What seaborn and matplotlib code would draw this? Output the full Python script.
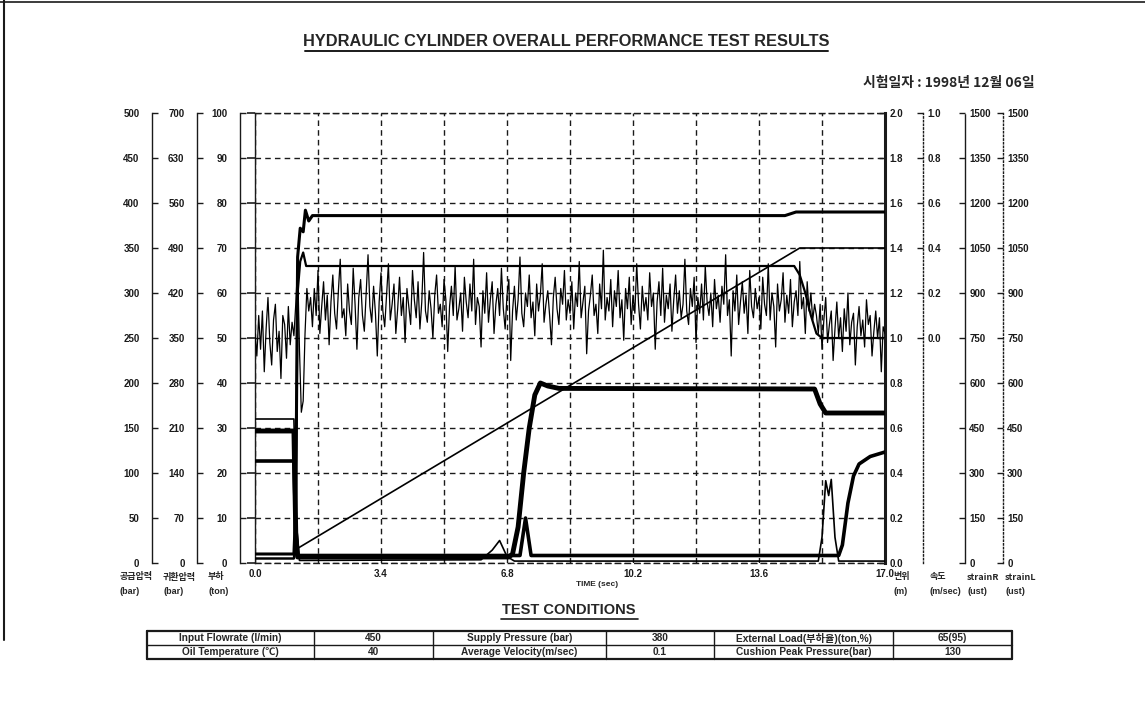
import numpy as np
import matplotlib
matplotlib.use("Agg")
import matplotlib.pyplot as plt
import seaborn as sns
from matplotlib.lines import Line2D
from matplotlib.ticker import MultipleLocator

# ---------------- data ----------------
x_ticks = [0.0, 3.4, 6.8, 10.2, 13.6, 17.0]

supply_t = [0, 1.05, 1.10, 1.15, 1.22, 1.30, 1.36, 1.45, 1.55, 14.3, 14.6, 17.0]
supply_v = [10, 10, 60, 340, 372, 368, 392, 380, 386, 386, 390, 390]          # bar (0-500)

return_t = [0, 1.05, 1.12, 1.20, 6.1, 6.4, 6.6, 6.8, 7.0, 15.2, 15.3, 15.4, 15.48, 15.55, 15.65, 15.75, 17.0]
return_v = [224, 224, 60, 4, 5, 20, 35, 10, 3, 3, 40, 128, 105, 130, 40, 3, 3]     # bar (0-700)

load_t = [0, 1.05, 1.10, 1.15, 1.22, 1.30, 1.38, 14.55, 14.7, 14.85, 15.0, 15.15, 15.3, 17.0]
load_v = [1, 1, 10, 60, 67, 69, 66, 66, 64, 60, 55, 51, 50, 50]                # ton (0-100)

disp_t = [0, 1.05, 1.10, 14.7, 17.0]
disp_v = [0.02, 0.02, 0.06, 1.40, 1.40]                                      # m (0-2.0)

strainR_t = [0, 1.05, 1.10, 1.15, 6.85, 6.95, 7.10, 7.25, 7.40, 7.55, 7.70, 7.90, 8.2, 15.1, 15.25, 15.4, 17.0]
strainR_v = [440, 440, 100, 20, 20, 30, 120, 300, 450, 560, 600, 590, 582, 580, 530, 500, 500]  # ue

strainL_t = [0, 1.05, 1.10, 1.15, 7.15, 7.30, 7.45, 15.75, 15.85, 16.0, 16.15, 16.3, 16.6, 17.0]
strainL_v = [340, 340, 100, 25, 25, 150, 25, 25, 60, 200, 290, 330, 355, 370]  # ue

vel_step = 0.05
vel_v = [
    # 0.00 - 1.05
    0.02, -0.08, 0.10, -0.05, 0.12, -0.15, 0.04, 0.18, -0.02, -0.12, 0.08, 0.15, -0.06, 0.03, -0.18, 0.10,
    0.06, -0.09, 0.14, -0.03, 0.07, 0.01,
    # 1.10 - 1.45
    0.15, 0.32, -0.05, -0.33, -0.28, 0.02, 0.22, 0.12,
    # 1.50 - 15.10
    0.18, 0.05, 0.22, 0.10, 0.30, 0.02, 0.14, 0.25, 0.08, 0.19, -0.03, 0.16, 0.28, 0.11, 0.04, 0.21, 0.35, 0.09, 0.13, 0.01,
    0.24, 0.12, 0.06, 0.31, 0.15, -0.05, 0.18, 0.26, 0.10, 0.03, 0.20, 0.37, 0.14, 0.07, 0.23, 0.11, -0.08, 0.16, 0.29, 0.12,
    0.05, 0.19, 0.33, 0.08, 0.15, 0.24, 0.02, 0.13, 0.27, 0.10, 0.18, -0.02, 0.22, 0.14, 0.06, 0.30, 0.17, 0.09, 0.25, 0.04,
    0.16, 0.38, 0.12, 0.07, 0.21, 0.13, 0.00, 0.19, 0.28, 0.11, 0.15, 0.05, 0.26, 0.17, -0.06, 0.14, 0.23, 0.10, 0.32, 0.08,
    0.13, 0.20, 0.03, 0.27, 0.16, 0.09, 0.24, 0.12, 0.35, 0.06, 0.18, 0.14, -0.04, 0.21, 0.11, 0.29, 0.07, 0.17, 0.25, 0.02,
    0.15, 0.22, 0.10, 0.31, 0.13, 0.04, 0.19, 0.26, -0.10, 0.12, 0.23, 0.08, 0.17, 0.36, 0.11, 0.05, 0.20, 0.14, 0.28, 0.09,
    0.16, 0.01, 0.24, 0.12, 0.19, 0.33, 0.07, 0.15, 0.21, 0.10, -0.03, 0.18, 0.27, 0.13, 0.06, 0.22, 0.15, 0.30, 0.08, 0.17,
    0.11, 0.25, 0.04, 0.20, 0.14, 0.34, 0.09, 0.16, 0.23, -0.07, 0.12, 0.19, 0.28, 0.10, 0.15, 0.02, 0.24, 0.13, 0.39, 0.08,
    0.18, 0.12, 0.26, 0.05, 0.21, 0.14, 0.30, 0.09, 0.17, -0.01, 0.22, 0.13, 0.27, 0.06, 0.19, 0.11, 0.33, 0.15, 0.04, 0.23,
    0.12, 0.18, 0.08, 0.29, 0.14, 0.20, -0.05, 0.16, 0.25, 0.10, 0.31, 0.07, 0.19, 0.13, 0.24, 0.03, 0.17, 0.28, 0.11, 0.21,
    0.09, 0.15, 0.35, 0.12, 0.06, 0.22, 0.14, 0.27, -0.02, 0.18, 0.11, 0.24, 0.08, 0.32, 0.16, 0.10, 0.20, 0.05, 0.26, 0.13,
    0.19, 0.07, 0.23, 0.15, 0.37, 0.10, 0.17, -0.08, 0.21, 0.12, 0.28, 0.06, 0.16, 0.25, 0.11, 0.19, 0.02, 0.30, 0.14, 0.09,
    0.22, 0.13, 0.18, 0.04, 0.27, 0.15, 0.10, 0.33, 0.08, 0.20, 0.14, -0.04, 0.24, 0.12, 0.17, 0.29, 0.07, 0.19, 0.11, 0.26,
    0.05, 0.16, 0.21, 0.10, 0.34, 0.13, 0.18, 0.02, 0.25, 0.12, 0.20, 0.08, 0.15,
    # 15.15 - 17.00
    0.10, 0.02, 0.15, -0.05, 0.08, 0.18, -0.02, 0.06, 0.12, -0.10, 0.04, 0.16, 0.00, 0.09, -0.06, 0.13, 0.03, 0.20,
    -0.03, 0.07, 0.11, -0.12, 0.05, 0.14, 0.01, 0.08, -0.04, 0.17, 0.06, 0.10, -0.08, 0.03, 0.12, 0.00, 0.09, -0.15,
    0.05, 0.02,
]
vel_t = np.round(np.arange(len(vel_v)) * vel_step, 2)

supply_ticks = [0, 50, 100, 150, 200, 250, 300, 350, 400, 450, 500]
return_ticks = [0, 70, 140, 210, 280, 350, 420, 490, 560, 630, 700]
load_ticks = [0, 10, 20, 30, 40, 50, 60, 70, 80, 90, 100]
disp_ticks = [0.0, 0.2, 0.4, 0.6, 0.8, 1.0, 1.2, 1.4, 1.6, 1.8, 2.0]
vel_ticks = [0.0, 0.2, 0.4, 0.6, 0.8, 1.0]
strain_ticks = [0, 150, 300, 450, 600, 750, 900, 1050, 1200, 1350, 1500]

title_text = "HYDRAULIC CYLINDER OVERALL PERFORMANCE TEST RESULTS"
date_text = "시험일자 : 1998년 12월 06일"
table_rows = [
    ["Input Flowrate (l/min)", "450", "Supply Pressure (bar)", "380", "External Load(부하율)(ton,%)", "65(95)"],
    ["Oil Temperature (℃)", "40", "Average Velocity(m/sec)", "0.1", "Cushion Peak Pressure(bar)", "130"],
]

# ---------------- style ----------------
sns.set_theme(style="white")
plt.rcParams['font.family'] = ['Liberation Sans', 'Noto Sans CJK KR', 'DejaVu Sans']
plt.rcParams['font.weight'] = 'bold'

W, H = 1145, 701
fig = plt.figure(figsize=(W / 100, H / 100), dpi=100)
fig.patch.set_facecolor('white')


def fx(px):
    return px / W


def fy(py):
    return 1 - py / H


PL, PR, PT, PB = 255, 885, 113, 563
ax = fig.add_axes([fx(PL), fy(PB), fx(PR - PL), fy(PT) - fy(PB)])
ax.set_facecolor('none')
ax.set_xlim(0, 17)
ax.set_ylim(0, 10)
ax.set_xticks(x_ticks)
ax.set_xticklabels([f"{v:.1f}" for v in x_ticks])
ax.xaxis.set_minor_locator(MultipleLocator(1.7))
ax.set_yticks(range(11))
ax.tick_params(axis='y', left=False, labelleft=False)
ax.tick_params(axis='x', which='both', length=0, pad=4, labelsize=7, colors='k')
ax.grid(True, which='both', axis='both', linestyle=(0, (4, 3)), color='k', linewidth=1.0)
ax.spines['left'].set_color('k'); ax.spines['left'].set_linewidth(1.0)
ax.spines['right'].set_color('k'); ax.spines['right'].set_linewidth(2.2)
for s in ('top', 'bottom'):
    ax.spines[s].set_color('k'); ax.spines[s].set_linewidth(1.0); ax.spines[s].set_linestyle((0, (4, 3)))


def make_twin(side, offset_px, lim, ticks, fmt, ls='-', show_spine=True):
    tw = ax.twinx()
    tw.set_ylim(*lim)
    for s in tw.spines.values():
        s.set_visible(False)
    sp = tw.spines[side]
    sp.set_visible(show_spine)
    sp.set_position(('outward', offset_px * 0.72))
    sp.set_linestyle(ls); sp.set_linewidth(1.0); sp.set_color('k')
    tw.yaxis.set_ticks_position(side)
    tw.yaxis.set_label_position(side)
    tw.set_yticks(ticks)
    tw.set_yticklabels([fmt(v) for v in ticks])
    pad = 9 if side == 'left' else 3
    tw.tick_params(axis='y', direction='in', length=4, width=1, pad=pad, labelsize=7, colors='k')
    tw.grid(False)
    tw.patch.set_visible(False)
    return tw


ax_sp = make_twin('left', PL - 152, (0, 500), supply_ticks, lambda v: f"{v}")
ax_rp = make_twin('left', PL - 197, (0, 700), return_ticks, lambda v: f"{v}")
ax_ld = make_twin('left', PL - 240, (0, 100), load_ticks, lambda v: f"{v}")
ax_ds = make_twin('right', 0, (0, 2.0), disp_ticks, lambda v: f"{v:.1f}", show_spine=False)
ax_vl = make_twin('right', 923 - PR, (-1.0, 1.0), vel_ticks, lambda v: f"{v:.1f}", ls=':')
ax_sr = make_twin('right', 965 - PR, (0, 1500), strain_ticks, lambda v: f"{v}", ls=(0, (2, 1)))
ax_sl = make_twin('right', 1003 - PR, (0, 1500), strain_ticks, lambda v: f"{v}", ls=':')


def draw(a, t, v, lw):
    sns.lineplot(x=list(t), y=list(v), ax=a, color='black', linewidth=lw,
                 estimator=None, sort=False, legend=False)
    a.set_xlabel(''); a.set_ylabel('')


draw(ax_vl, vel_t, vel_v, 0.9)
draw(ax_sp, supply_t, supply_v, 2.2)
draw(ax_rp, return_t, return_v, 1.2)
draw(ax_ld, load_t, load_v, 1.6)
draw(ax_ds, disp_t, disp_v, 1.2)
draw(ax_sr, strainR_t, strainR_v, 3.5)
draw(ax_sl, strainL_t, strainL_v, 2.6)
ax.set_xlim(0, 17)

# ---------------- texts ----------------
fs_u = 6.5
unit_labels = [(120, "공급압력", "(bar)"), (163, "귀환압력", "(bar)"), (208, "부하", "(ton)"),
               (893, "변위", "(m)"), (930, "속도", "(m/sec)"), (967, "strainR", "(ust)"),
               (1005, "strainL", "(ust)")]
for x, l1, l2 in unit_labels:
    fig.text(fx(x), fy(577), l1, fontsize=fs_u, fontweight='bold', ha='left', va='center',
             family=['Noto Sans CJK KR', 'Liberation Sans'])
    fig.text(fx(x), fy(591), l2, fontsize=fs_u, fontweight='bold', ha='left', va='center',
             family=['Liberation Sans', 'Noto Sans CJK KR'])

fig.text(fx(597), fy(585), "TIME (sec)", fontsize=6, fontweight='bold', ha='center', va='center')

fig.text(fx(566), fy(42), title_text, fontsize=11.8, fontweight='bold', ha='center', va='center')
fig.text(fx(1035), fy(83), date_text, fontsize=10, fontweight='bold', ha='right', va='center',
         family=['Noto Sans CJK KR', 'Liberation Sans'])
fig.text(fx(569), fy(610), "TEST CONDITIONS", fontsize=10.5, fontweight='bold', ha='center', va='center')

# underlines
fig.add_artist(Line2D([fx(305), fx(828)], [fy(51), fy(51)], color='k', lw=1.4))
fig.add_artist(Line2D([fx(501), fx(638)], [fy(619), fy(619)], color='k', lw=1.2))

# table
cols = [147, 314, 433, 606, 714, 893, 1012]
rows = [631, 645, 659]
for yy in rows:
    lw = 1.6 if yy in (rows[0], rows[-1]) else 1.0
    fig.add_artist(Line2D([fx(cols[0]), fx(cols[-1])], [fy(yy), fy(yy)], color='k', lw=lw))
for i, xx in enumerate(cols):
    lw = 1.6 if i in (0, len(cols) - 1) else 1.0
    fig.add_artist(Line2D([fx(xx), fx(xx)], [fy(rows[0]), fy(rows[-1])], color='k', lw=lw))
for r, row in enumerate(table_rows):
    yc = (rows[r] + rows[r + 1]) / 2
    for c, txt in enumerate(row):
        xc = (cols[c] + cols[c + 1]) / 2
        fig.text(fx(xc), fy(yc), txt, fontsize=7.3, fontweight='bold', ha='center', va='center',
                 family=['Liberation Sans', 'Noto Sans CJK KR', 'DejaVu Sans'])

# scan border lines
fig.add_artist(Line2D([0, 1], [fy(2), fy(2)], color='k', lw=1.2))
fig.add_artist(Line2D([fx(4), fx(4)], [fy(0), fy(640)], color='k', lw=1.5))

fig.savefig("out.png", dpi=100, facecolor='white')
